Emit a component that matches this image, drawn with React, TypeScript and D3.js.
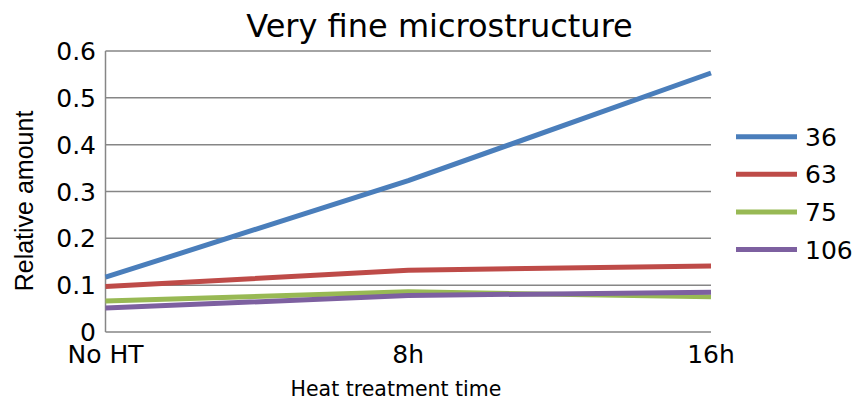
import React from "react";
import * as d3 from "d3";

const categories = ["No HT", "8h", "16h"];
const seriesNames = ["36", "63", "75", "106"];
const values36 = [0.117, 0.323, 0.553];
const values63 = [0.097, 0.132, 0.141];
const values75 = [0.066, 0.086, 0.075];
const values106 = [0.051, 0.078, 0.085];
const yTicks = [0, 0.1, 0.2, 0.3, 0.4, 0.5, 0.6];
const colors = ["#4a7ebb", "#be4b48", "#98b954", "#7d60a0"];

const W = 859;
const H = 404;
const left = 105.5;
const right = 711;
const top = 51;
const bottom = 332;
const font = "DejaVu Sans, sans-serif";

export default function App() {
  const x = d3.scalePoint<string>().domain(categories).range([left, right]);
  const y = d3.scaleLinear().domain([0, 0.6]).range([bottom, top]);
  const line = d3
    .line<number>()
    .x((_, i) => x(categories[i]) as number)
    .y((d) => y(d));
  const series = [values36, values63, values75, values106];
  const fmt = (v: number) => (v === 0 ? "0" : d3.format(".1f")(v));

  return (
    <svg
      width={W}
      height={H}
      style={{ position: "absolute", left: 0, top: 0, background: "#fff" }}
      fontFamily={font}
    >
      <text x={439.5} y={37} fontSize={32} textAnchor="middle" fill="#000">
        Very fine microstructure
      </text>
      {yTicks.map((t) => (
        <g key={t}>
          <line
            x1={left}
            x2={right}
            y1={y(t)}
            y2={y(t)}
            stroke="#868686"
            strokeWidth={1.5}
          />
          <text
            x={96}
            y={y(t)}
            dy="0.36em"
            fontSize={25}
            textAnchor="end"
            fill="#000"
          >
            {fmt(t)}
          </text>
        </g>
      ))}
      <line x1={left} x2={left} y1={top} y2={bottom} stroke="#868686" strokeWidth={1.5} />
      {categories.map((c) => (
        <text
          key={c}
          x={x(c) as number}
          y={363}
          fontSize={25}
          textAnchor="middle"
          fill="#000"
        >
          {c}
        </text>
      ))}
      <text x={396} y={396} fontSize={20.5} textAnchor="middle" fill="#000">
        Heat treatment time
      </text>
      <text
        transform={`translate(33,201) rotate(-90)`}
        fontSize={25}
        fontFamily="Liberation Sans, Arial, sans-serif"
        textAnchor="middle"
        fill="#000"
      >
        Relative amount
      </text>
      {series.map((s, i) => (
        <path
          key={i}
          d={line(s) as string}
          fill="none"
          stroke={colors[i]}
          strokeWidth={5}
          strokeLinejoin="round"
        />
      ))}
      {seriesNames.map((n, i) => {
        const ly = 136.7 + i * 37.6;
        return (
          <g key={n}>
            <line x1={736} x2={797} y1={ly} y2={ly} stroke={colors[i]} strokeWidth={5} />
            <text x={805} y={ly} dy="0.36em" fontSize={25} fill="#000">
              {n}
            </text>
          </g>
        );
      })}
    </svg>
  );
}
